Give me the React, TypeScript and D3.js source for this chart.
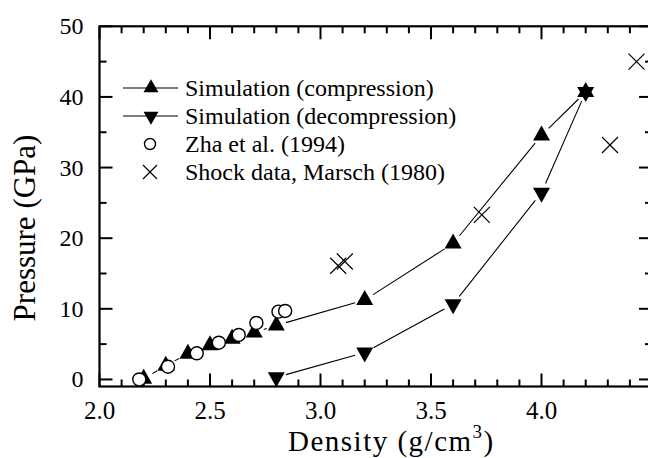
import React from "react";
import * as d3 from "d3";

const compDensity = [2.2, 2.3, 2.4, 2.5, 2.6, 2.7, 2.8, 3.2, 3.6, 4.0, 4.2];
const compPressure = [0.1, 1.95, 3.65, 4.85, 5.75, 6.65, 7.65, 11.25, 19.25, 34.55, 40.7];
const decompDensity = [4.2, 4.0, 3.6, 3.2, 2.8];
const decompPressure = [40.7, 26.45, 10.65, 3.8, 0.3];
const zhaDensity = [2.18, 2.31, 2.44, 2.54, 2.63, 2.71, 2.81, 2.84];
const zhaPressure = [0.0, 1.8, 3.7, 5.2, 6.3, 8.0, 9.6, 9.7];
const shockDensity = [3.08, 3.11, 3.73, 4.31, 4.43];
const shockPressure = [16.1, 16.7, 23.3, 33.2, 45.0];
const xTickLabels = ["2.0", "2.5", "3.0", "3.5", "4.0"];
const xTickValues = [2.0, 2.5, 3.0, 3.5, 4.0];
const yTickValues = [0, 10, 20, 30, 40, 50];
const legendLabels = [
  "Simulation (compression)",
  "Simulation (decompression)",
  "Zha et al. (1994)",
  "Shock data, Marsch (1980)",
];

const W = 648;
const H = 458;
const L = 99.5;
const R = 652;
const T = 26.3;
const B = 386.5;
const FONT = "'Liberation Serif', 'Times New Roman', serif";

const x = d3.scaleLinear().domain([2.0, 4.5]).range([L, R]);
const y = d3.scaleLinear().domain([-1, 50]).range([B, T]);

// triangles centred on their centroid (so overlapping up+down form a hexagram)
const triUp = (cx: number, cy: number, w = 17, h = 15) =>
  `M${cx - w / 2},${cy + h / 3}L${cx + w / 2},${cy + h / 3}L${cx},${cy - (2 * h) / 3}Z`;
const triDown = (cx: number, cy: number, w = 17, h = 15) =>
  `M${cx - w / 2},${cy - h / 3}L${cx + w / 2},${cy - h / 3}L${cx},${cy + (2 * h) / 3}Z`;
const cross = (cx: number, cy: number, s = 8) =>
  `M${cx - s},${cy - s}L${cx + s},${cy + s}M${cx - s},${cy + s}L${cx + s},${cy - s}`;

function gappedSegments(xs: number[], ys: number[], gap: number) {
  const segs: string[] = [];
  for (let i = 0; i < xs.length - 1; i++) {
    const x1 = x(xs[i]), y1 = y(ys[i]);
    const x2 = x(xs[i + 1]), y2 = y(ys[i + 1]);
    const dx = x2 - x1, dy = y2 - y1;
    const len = Math.hypot(dx, dy);
    if (len <= 2 * gap) continue;
    const ux = dx / len, uy = dy / len;
    segs.push(
      `M${x1 + ux * gap},${y1 + uy * gap}L${x2 - ux * gap},${y2 - uy * gap}`
    );
  }
  return segs.join("");
}

export default function App() {
  const xMinor = d3.range(2.0, 4.5001, 0.1).map((v) => +v.toFixed(2));
  const yMinor = d3.range(0, 50.001, 5);
  const isXMajor = (v: number) => Math.abs(v * 2 - Math.round(v * 2)) < 1e-6;
  const isYMajor = (v: number) => v % 10 === 0;
  const major = 13;
  const minor = 7;

  const legendRows = [88, 116, 144, 172];

  return (
    <svg
      width={W}
      height={H}
      style={{ position: "absolute", left: 0, top: 0, background: "#fff" }}
      fontFamily={FONT}
    >
      <rect x={0} y={0} width={W} height={H} fill="#fff" />
      {/* ticks */}
      <g stroke="#000" strokeWidth={2}>
        {xMinor.map((v, i) => {
          const len = isXMajor(v) ? major : minor;
          return (
            <g key={"xt" + i}>
              <line x1={x(v)} x2={x(v)} y1={B} y2={B - len} />
              <line x1={x(v)} x2={x(v)} y1={T} y2={T + len} />
            </g>
          );
        })}
        {yMinor.map((v, i) => {
          const len = isYMajor(v) ? major : minor;
          return (
            <g key={"yt" + i}>
              <line x1={L} x2={L + len} y1={y(v)} y2={y(v)} />
              <line x1={R} x2={R - len} y1={y(v)} y2={y(v)} />
            </g>
          );
        })}
      </g>
      {/* frame */}
      <rect x={L} y={T} width={R - L} height={B - T} fill="none" stroke="#000" strokeWidth={2.2} />

      {/* tick labels */}
      <g fontSize={25} fill="#000">
        {xTickValues.map((v, i) => (
          <text key={"xl" + i} x={x(v)} y={419} textAnchor="middle">
            {xTickLabels[i]}
          </text>
        ))}
      </g>
      <g fontSize={24} fill="#000">
        {yTickValues.map((v) => (
          <text key={"yl" + v} x={83.5} y={y(v) + 8} textAnchor="end">
            {v}
          </text>
        ))}
      </g>

      {/* axis titles */}
      <text x={288} y={451} fontSize={29} letterSpacing={1.5} fill="#000">
        Density (g/cm
        <tspan dy={-13} fontSize={19}>3</tspan>
        <tspan dy={13}>)</tspan>
      </text>
      <text
        transform={`translate(35,${228}) rotate(-90)`}
        textAnchor="middle"
        fontSize={31}
        fill="#000"
      >
        Pressure (GPa)
      </text>

      {/* lines */}
      <path d={gappedSegments(compDensity, compPressure, 10)} stroke="#000" strokeWidth={1.1} fill="none" />
      <path d={gappedSegments(decompDensity, decompPressure, 10)} stroke="#000" strokeWidth={1.1} fill="none" />

      {/* markers */}
      {compDensity.map((d, i) => (
        <path key={"cu" + i} d={triUp(x(d), y(compPressure[i]))} fill="#000" />
      ))}
      {decompDensity.map((d, i) => (
        <path key={"dd" + i} d={triDown(x(d), y(decompPressure[i]))} fill="#000" />
      ))}
      {zhaDensity.map((d, i) => (
        <circle
          key={"z" + i}
          cx={x(d)}
          cy={y(zhaPressure[i])}
          r={6.5}
          fill="#fff"
          stroke="#000"
          strokeWidth={1.4}
        />
      ))}
      {shockDensity.map((d, i) => (
        <path
          key={"s" + i}
          d={cross(x(d), y(shockPressure[i]))}
          stroke="#000"
          strokeWidth={1.2}
          fill="none"
        />
      ))}

      {/* legend */}
      <g>
        <line x1={123} x2={178} y1={legendRows[0]} y2={legendRows[0]} stroke="#000" strokeWidth={1.1} />
        <path d={triUp(151, legendRows[0], 15, 13)} fill="#000" />
        <line x1={123} x2={178} y1={legendRows[1]} y2={legendRows[1]} stroke="#000" strokeWidth={1.1} />
        <path d={triDown(151, legendRows[1], 15, 13)} fill="#000" />
        <circle cx={150} cy={legendRows[2]} r={5.5} fill="#fff" stroke="#000" strokeWidth={1.4} />
        <path d={cross(150, legendRows[3], 7)} stroke="#000" strokeWidth={1.2} fill="none" />
        {legendLabels.map((t, i) => (
          <text key={"lg" + i} x={185} y={legendRows[i] + 8} fontSize={24} fill="#000">
            {t}
          </text>
        ))}
      </g>
    </svg>
  );
}
